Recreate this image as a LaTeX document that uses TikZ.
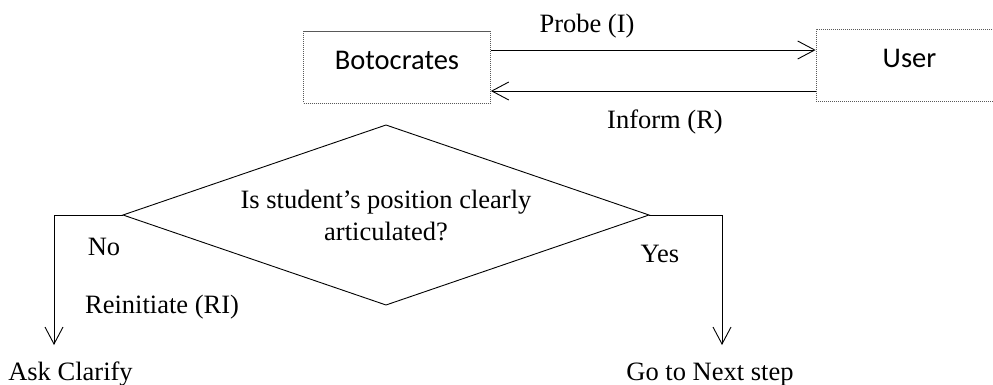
\documentclass[tikz,border=0pt]{standalone}
\usepackage{fontspec}
\setmainfont{Liberation Serif}
\newfontfamily\boxfont{Carlito}
\usetikzlibrary{arrows.meta,shapes.geometric}

\begin{document}
\begin{tikzpicture}[x=1pt,y=-1pt,
  agentbox/.style={draw=black!65, line width=0.7pt, dash pattern=on 1.2pt off 0.8pt,
    minimum width=187pt, minimum height=72pt, inner sep=0pt,
    font=\boxfont\fontsize{28.5}{34}\selectfont, text height=19pt, text depth=13pt},
  lbl/.style={font=\fontsize{26.5}{32}\selectfont, inner sep=0pt, anchor=base},
  flow/.style={line width=0.9pt, -{Straight Barb[length=17pt,width=18pt,line width=0.9pt]}},
  decision/.style={draw, line width=0.9pt, diamond, aspect=2.922, minimum width=526pt,
    minimum height=180pt, inner sep=0pt, outer sep=0pt, align=center,
    font=\fontsize{26.5}{32}\selectfont}]

\useasboundingbox (0,0) rectangle (993,385);

% the two agents and the exchange between them
\node[agentbox] (bot) at (397,67) {Botocrates};
\node[agentbox] (user) at (909.5,65) {User};

\draw[flow] ([yshift=17pt]bot.east) -- ([yshift=17pt]bot.east -| user.west);
\draw[flow] ([yshift=-24pt]bot.east -| user.west) -- ([yshift=-24pt]bot.east);

\node[lbl] (probe) at (587,33) {Probe (I)};
\node[lbl] (inform) at (665,129) {Inform (R)};

% decision step
\node[decision] (dia) at (386,215) {Is student’s position clearly\\articulated?};

\coordinate (noEnd) at (54,345);
\coordinate (yesEnd) at (722,345);
\draw[flow] (dia.west) -| (noEnd);
\draw[flow] (dia.east) -| (yesEnd);

\node[lbl] (no) at (104,255) {No};
\node[lbl] (reinit) at (162,313) {Reinitiate (RI)};
\node[lbl] (yes) at (660,262) {Yes};
\node[lbl] (ask) at (70.5,380) {Ask Clarify};
\node[lbl] (next) at (710,380) {Go to Next step};

\end{tikzpicture}
\end{document}
